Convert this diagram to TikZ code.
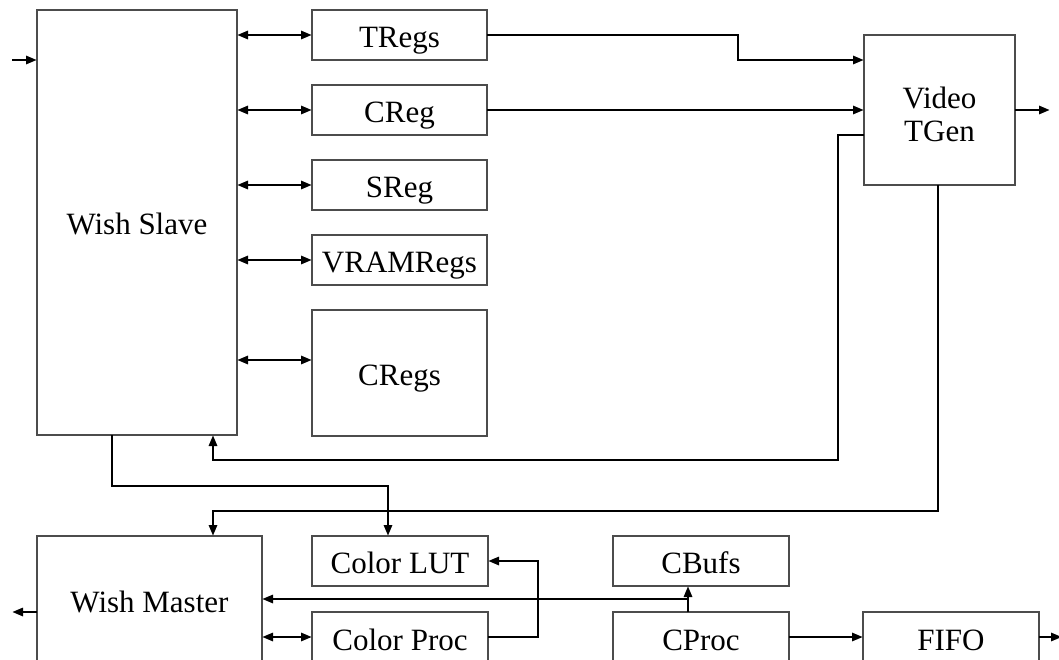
\documentclass[tikz,border=0pt]{standalone}
\usepackage{fontspec}
\setmainfont{Liberation Serif}
\usetikzlibrary{arrows.meta,calc}
\begin{document}
\begin{tikzpicture}[x=1pt,y=-1pt,
  box/.style={draw=black!70,line width=1.2pt,rectangle,inner sep=0pt,outer sep=0pt,
    font=\fontsize{31}{33}\selectfont,align=center,text height=26pt,text depth=2pt},
  conn/.style={line width=2.8pt,-{Triangle[length=11pt,width=8pt]}},
  bconn/.style={line width=2.8pt,{Triangle[length=11pt,width=8pt]}-{Triangle[length=11pt,width=8pt]}}]
\clip (0,0) rectangle (1059,659);
\useasboundingbox (0,0) rectangle (1059,659);
% boxes
\node[box,minimum width=200pt,minimum height=425pt] (ws) at (137,222.5) {Wish Slave};
\node[box,minimum width=175pt,minimum height=50pt] (tregs) at (399.5,35) {TRegs};
\node[box,minimum width=175pt,minimum height=50pt] (creg) at (399.5,110) {CReg};
\node[box,minimum width=175pt,minimum height=50pt] (sreg) at (399.5,185) {SReg};
\node[box,minimum width=175pt,minimum height=50pt] (vram) at (399.5,260) {VRAMRegs};
\node[box,minimum width=175pt,minimum height=126pt] (cregs) at (399.5,373) {CRegs};
\node[box,minimum width=151pt,minimum height=150pt,text height=62pt,text depth=0pt] (video) at (939.5,110) {Video\\TGen};
\node[box,minimum width=176pt,minimum height=50pt] (lut) at (400,561) {Color LUT};
\node[box,minimum width=176pt,minimum height=52pt] (cp) at (400,638) {Color Proc};
\node[box,minimum width=225pt,minimum height=128pt] (wm) at (149.5,600) {Wish Master};
\node[box,minimum width=176pt,minimum height=50pt] (cbufs) at (701,561) {CBufs};
\node[box,minimum width=176pt,minimum height=52pt] (cproc) at (701,638) {CProc};
\node[box,minimum width=176pt,minimum height=52pt] (fifo) at (951,638) {FIFO};
% free ends
\coordinate (in) at (12,60);
\coordinate (vout) at (1050,110);
\coordinate (wmout) at (12,612);
\coordinate (fout) at (1062,637);
% connectors
\draw[conn] (in) -- (ws.west |- in);
\draw[bconn] (ws.east |- tregs) -- (tregs.west);
\draw[bconn] (ws.east |- creg) -- (creg.west);
\draw[bconn] (ws.east |- sreg) -- (sreg.west);
\draw[bconn] (ws.east |- vram) -- (vram.west);
\draw[bconn] (ws.east |- 0,360) -- (cregs.west |- 0,360);
\draw[conn] (tregs.east) -- (738,35) -- (738,60) -- (video.west |- 0,60);
\draw[conn] (creg.east) -- (video.west |- creg);
\draw[conn] (video.east) -- (vout);
\draw[conn] (video.west |- 0,135) -- (838,135) -- (838,460) -- (213,460) -- (ws.south -| 213,0);
\draw[conn] (ws.south -| 112,0) -- (112,486) -- (388,486) -- (lut.north -| 388,0);
\draw[conn] (video.south -| 938,0) -- (938,511) -- (213,511) -- (wm.north -| 213,0);
\draw[conn] (cproc.north -| 688,0) -- (cbufs.south -| 688,0);
\draw[conn] (688,599) -- (wm.east |- 0,599);
\draw[conn] (cp.east |- 0,637) -- (538,637) -- (538,561) -- (lut.east);
\draw[bconn] (wm.east |- 0,637) -- (cp.west |- 0,637);
\draw[conn] (cproc.east |- 0,637) -- (fifo.west |- 0,637);
\draw[conn] (fifo.east |- 0,637) -- (fout);
\draw[conn] (wm.west |- wmout) -- (wmout);
\end{tikzpicture}
\end{document}
